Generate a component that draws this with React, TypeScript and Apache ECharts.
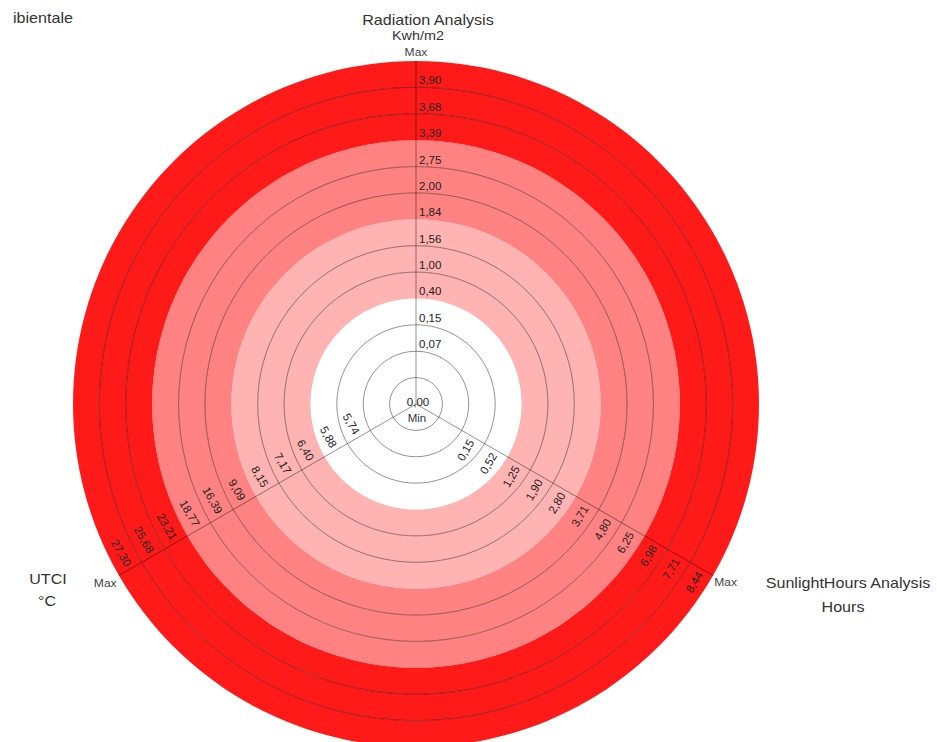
import React, { useEffect, useRef } from "react";
import * as echarts from "echarts";

const FONT = "'Liberation Sans', Arial, sans-serif";

// 13 concentric bands, from the centre outwards
const bandColors = [
  "#ffffff", "#ffffff", "#ffffff", "#ffffff",
  "#ffb3b3", "#ffb3b3", "#ffb3b3",
  "#ff8282", "#ff8282", "#ff8282",
  "#ff1a1a", "#ff1a1a", "#ff1a1a",
];
const ringCount = bandColors.length;

// tick labels on each spoke (rings 2..12)
const radiationLabels = ["0,07", "0,15", "0,40", "1,00", "1,56", "1,84", "2,00", "2,75", "3,39", "3,68", "3,90"];
const sunlightLabels = ["0,15", "0,52", "1,25", "1,90", "2,80", "3,71", "4,80", "6,25", "6,98", "7,71", "8,44"];
const utciLabels = ["5,74", "5,88", "6,40", "7,17", "8,15", "9,09", "16,39", "18,77", "23,21", "25,68", "27,30"];

const spokeAngles = [0, 120, 240]; // radiation (top), sunlight (lower right), utci (lower left)

type Item = { r: number; angle: number; text: string; kind: string };

const items: Item[] = [];
radiationLabels.forEach((t, i) => items.push({ r: i + 2, angle: spokeAngles[0], text: t, kind: "top" }));
sunlightLabels.forEach((t, i) => items.push({ r: i + 2.5, angle: spokeAngles[1], text: t, kind: "lr" }));
utciLabels.forEach((t, i) => items.push({ r: i + 2.5, angle: spokeAngles[2], text: t, kind: "ll" }));
items.push({ r: 0, angle: 0, text: "0,00", kind: "zero" });
items.push({ r: 0, angle: 0, text: "Min", kind: "min" });
items.push({ r: 13.33, angle: spokeAngles[0], text: "Max", kind: "max" });
items.push({ r: 13.55, angle: spokeAngles[1], text: "Max", kind: "max" });
items.push({ r: 13.6, angle: spokeAngles[2], text: "Max", kind: "max" });

// ring lines: none where the band colour changes (and none on the outer edge)
const splitLineColors: string[] = [];
for (let i = 0; i <= ringCount; i++) {
  const boundary = i === 0 || i === ringCount || bandColors[i] !== bandColors[i - 1];
  splitLineColors.push(boundary ? "rgba(0,0,0,0)" : "rgba(0,0,0,0.42)");
}

const SX = 1.15;

function title(text: string, x: number, y: number, size: number) {
  return {
    type: "text",
    x,
    y,
    scaleX: SX,
    style: { text, fontFamily: FONT, fontSize: size, fill: "#333", align: "center", verticalAlign: "middle" },
  };
}

const CENTER = [416, 404];
const RADIUS = 343;

const hidden = { axisLine: { show: false }, axisTick: { show: false }, axisLabel: { show: false } };

export default function App() {
  const ref = useRef<HTMLDivElement>(null);
  useEffect(() => {
    if (!ref.current) return;
    const chart = echarts.init(ref.current, null, { renderer: "svg" });
    const gap = 4;
    chart.setOption({
      animation: false,
      backgroundColor: "#ffffff",
      polar: [
        { center: CENTER, radius: RADIUS },
        { center: CENTER, radius: RADIUS },
      ],
      radiusAxis: [
        {
          polarIndex: 0,
          type: "value",
          min: 0,
          max: ringCount,
          interval: 1,
          z: 1,
          ...hidden,
          splitLine: { show: false },
          splitArea: { show: true, areaStyle: { color: bandColors, opacity: 1 } },
        },
        {
          polarIndex: 1,
          type: "value",
          min: 0,
          max: ringCount,
          interval: 1,
          z: 2,
          ...hidden,
          splitLine: { show: true, lineStyle: { color: splitLineColors, width: 1 } },
          splitArea: { show: false },
        },
      ],
      angleAxis: [
        {
          polarIndex: 0,
          type: "value",
          min: 0,
          max: 360,
          interval: 120,
          startAngle: 90,
          z: 1,
          ...hidden,
          splitLine: { show: false },
        },
        {
          polarIndex: 1,
          type: "value",
          min: 0,
          max: 360,
          interval: 120,
          startAngle: 90,
          z: 3,
          ...hidden,
          splitLine: { show: true, lineStyle: { color: "rgba(0,0,0,0.42)", width: 1 } },
        },
      ],
      graphic: [
        title("Radiation Analysis", 428, 20, 14),
        title("Kwh/m2", 418, 36, 12.5),
        title("UTCI", 48, 579, 14),
        title("°C", 47, 601, 14),
        title("SunlightHours Analysis", 848, 583, 14),
        title("Hours", 843, 607, 14),
        {
          type: "text",
          x: 13,
          y: 18,
          scaleX: SX,
          style: { text: "ibientale", fontFamily: FONT, fontSize: 14, fill: "#333", align: "left", verticalAlign: "middle" },
        },
      ],
      series: [
        {
          type: "custom",
          coordinateSystem: "polar",
          polarIndex: 0,
          encode: { radius: 0, angle: 1 },
          z: 10,
          data: items.map((it) => [it.r, it.angle]),
          renderItem: (params: any, api: any) => {
            const it = items[params.dataIndex];
            const p = api.coord([api.value(0), api.value(1)]);
            const st: any = { text: it.text, fontFamily: FONT, fontSize: 11.5, fill: "#222" };
            if (it.kind === "top") {
              return { type: "text", x: p[0] + 3, y: p[1] - 1, style: { ...st, align: "left", verticalAlign: "bottom" } };
            }
            if (it.kind === "lr") {
              return {
                type: "text",
                x: p[0] - 0.5 * gap,
                y: p[1] + 0.866 * gap,
                rotation: Math.PI / 3,
                style: { ...st, align: "right", verticalAlign: "middle" },
              };
            }
            if (it.kind === "ll") {
              return {
                type: "text",
                x: p[0] - 0.5 * gap,
                y: p[1] - 0.866 * gap,
                rotation: -Math.PI / 3,
                style: { ...st, align: "right", verticalAlign: "middle" },
              };
            }
            if (it.kind === "zero") {
              return { type: "text", x: p[0] + 2, y: p[1] - 2, style: { ...st, align: "center", verticalAlign: "middle" } };
            }
            if (it.kind === "min") {
              return { type: "text", x: p[0] + 1, y: p[1] + 14, style: { ...st, fill: "#333", align: "center", verticalAlign: "middle" } };
            }
            return {
              type: "text",
              x: p[0],
              y: p[1],
              scaleX: SX,
              style: { ...st, fontSize: 10.5, fill: "#444", align: "center", verticalAlign: "middle" },
            };
          },
        },
      ],
    });
    return () => chart.dispose();
  }, []);
  return <div ref={ref} style={{ position: "fixed", left: 0, top: 0, width: 937, height: 742 }} />;
}
